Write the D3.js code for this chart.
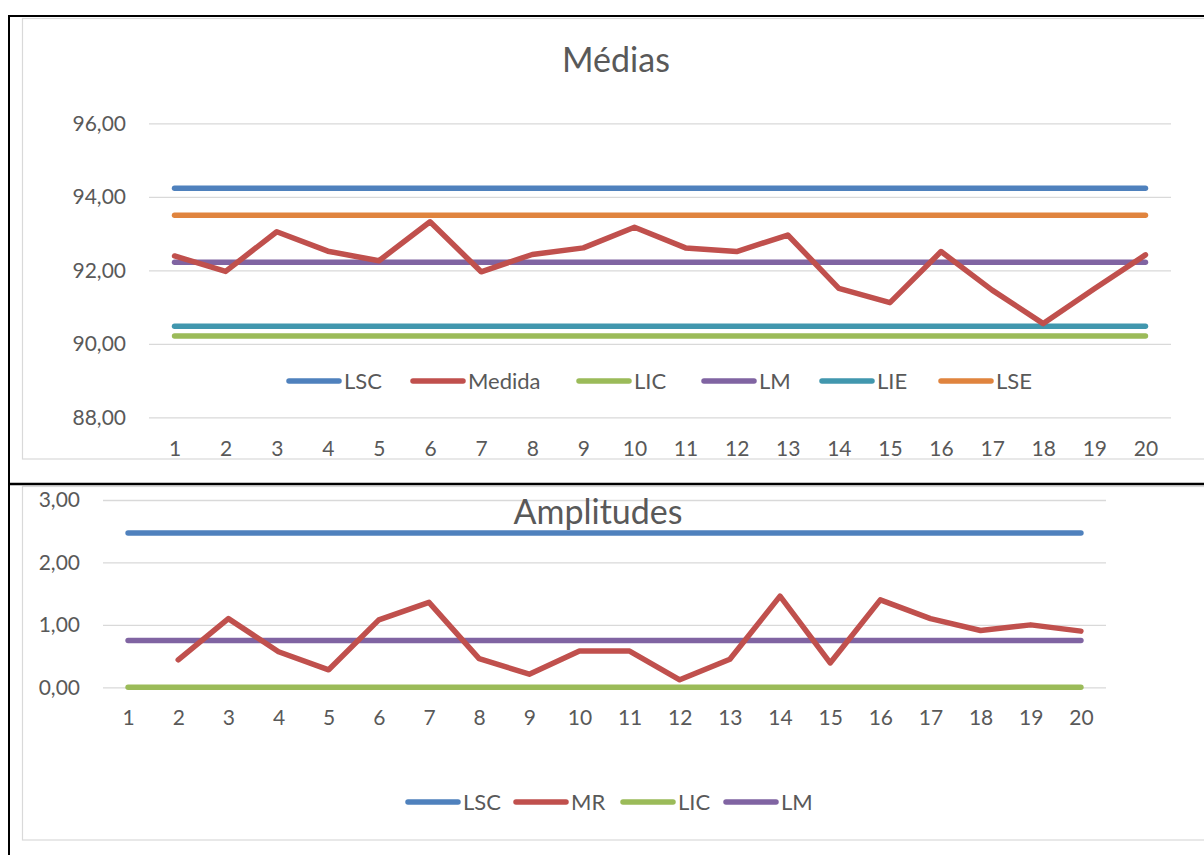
<!DOCTYPE html>
<html>
<head>
<meta charset="utf-8">
<script src="https://cdn.jsdelivr.net/npm/d3@7"></script>
<style>
  html, body { margin: 0; padding: 0; background: #fff; }
  svg text { font-family: Lato, "Open Sans", sans-serif; fill: #595959; }
</style>
</head>
<body>
<svg id="page" width="1204" height="855"></svg>
<script>
// Sample numbers
const samples = d3.range(1, 21).map(String);

// Chart 1: sample means and limits
const mediaValues = [92.39, 91.97, 93.05, 92.52, 92.26, 93.32, 91.96, 92.43, 92.61, 93.17,
                     92.61, 92.51, 92.96, 91.51, 91.12, 92.51, 91.46, 90.55, 91.50, 92.42];
const mediaLSC = 94.23;
const mediaLIC = 90.21;
const mediaLM = 92.22;
const mediaLIE = 90.48;
const mediaLSE = 93.50;
const mediaTicks = [88, 90, 92, 94, 96];

// Chart 2: moving ranges and limits (no range for the first sample)
const mrValues = [null, 0.44, 1.10, 0.57, 0.28, 1.08, 1.36, 0.46, 0.21, 0.58,
                  0.58, 0.12, 0.45, 1.46, 0.39, 1.40, 1.10, 0.91, 1.00, 0.90];
const mrLSC = 2.47;
const mrLIC = 0;
const mrLM = 0.75;
const mrTicks = [0, 1, 2, 3];

const colors = {
  LSC: "#4f81bd", Medida: "#c0504d", MR: "#c0504d", LIC: "#9bbb59",
  LM: "#8064a2", LIE: "#4197ae", LSE: "#e0843e"
};

const ptLocale = d3.formatLocale({ decimal: ",", thousands: ".", grouping: [3], currency: ["", ""] });
const fmt = ptLocale.format(".2f");

const svg = d3.select("#page");

// Chart frames
svg.append("rect").attr("x", 22.5).attr("y", 18.5).attr("width", 1200).attr("height", 440.5)
  .attr("fill", "none").attr("stroke", "#d9d9d9").attr("stroke-width", 1.2);
svg.append("rect").attr("x", 22.5).attr("y", 486.5).attr("width", 1200).attr("height", 353.5)
  .attr("fill", "none").attr("stroke", "#d9d9d9").attr("stroke-width", 1.2);

// Table borders
const border = svg.append("g").attr("stroke", "#000");
border.append("line").attr("x1", 8).attr("x2", 1204).attr("y1", 16).attr("y2", 16).attr("stroke-width", 2);
border.append("line").attr("x1", 9).attr("x2", 9).attr("y1", 15).attr("y2", 855).attr("stroke-width", 2);
border.append("line").attr("x1", 8).attr("x2", 1204).attr("y1", 484).attr("y2", 484).attr("stroke-width", 2.5);

function drawChart(cfg) {
  const g = svg.append("g");
  const x = d3.scalePoint().domain(samples).range([cfg.left, cfg.right]).padding(0.5);
  const y = d3.scaleLinear().domain(cfg.domain).range([cfg.bottom, cfg.top]);

  // Gridlines and y labels
  const yAxis = g.append("g").attr("transform", `translate(${cfg.left},0)`)
    .call(d3.axisLeft(y).tickValues(cfg.ticks).tickSize(-(cfg.right - cfg.left)).tickPadding(cfg.yPad).tickFormat(fmt));
  yAxis.select(".domain").remove();
  yAxis.selectAll(".tick line").attr("stroke", "#d9d9d9").attr("stroke-width", 1.3);
  yAxis.selectAll(".tick text").attr("font-size", cfg.fontSize).attr("fill", "#595959");

  // x labels
  const xAxis = g.append("g").attr("transform", `translate(0,${cfg.bottom})`)
    .call(d3.axisBottom(x).tickSize(0).tickPadding(cfg.xPad));
  xAxis.select(".domain").remove();
  xAxis.selectAll(".tick text").attr("font-size", cfg.fontSize).attr("fill", "#595959");

  // Title
  g.append("text").attr("x", cfg.titleX).attr("y", cfg.titleY).attr("text-anchor", "middle")
    .attr("font-size", cfg.titleSize).text(cfg.title);

  // Series
  const line = d3.line()
    .defined(d => d.v !== null)
    .x(d => x(d.s))
    .y(d => y(d.v));
  cfg.series.forEach(s => {
    const vals = Array.isArray(s.values) ? s.values : samples.map(() => s.values);
    const data = samples.map((sm, i) => ({ s: sm, v: vals[i] }));
    g.append("path").datum(data)
      .attr("d", line)
      .attr("fill", "none")
      .attr("stroke", colors[s.name])
      .attr("stroke-width", 5.5)
      .attr("stroke-linecap", "round")
      .attr("stroke-linejoin", "round");
  });

  // Legend
  const leg = g.append("g");
  cfg.legend.forEach((name, i) => {
    const lx = cfg.legendX[i];
    leg.append("line").attr("x1", lx + 2).attr("x2", lx + 52)
      .attr("y1", cfg.legendY).attr("y2", cfg.legendY)
      .attr("stroke", colors[name]).attr("stroke-width", 5.5).attr("stroke-linecap", "round");
    leg.append("text").attr("x", lx + 57).attr("y", cfg.legendY).attr("dy", "0.35em")
      .attr("font-size", cfg.legendSize).text(name);
  });
}

drawChart({
  title: "Médias", titleX: 616, titleY: 72, titleSize: 34,
  left: 149, right: 1171, top: 123.3, bottom: 417.3,
  domain: [88, 96], ticks: mediaTicks, fontSize: 21, legendSize: 22, yPad: 23, xPad: 24,
  series: [
    { name: "LSC", values: mediaLSC },
    { name: "LSE", values: mediaLSE },
    { name: "LIE", values: mediaLIE },
    { name: "LIC", values: mediaLIC },
    { name: "LM", values: mediaLM },
    { name: "Medida", values: mediaValues }
  ],
  legend: ["LSC", "Medida", "LIC", "LM", "LIE", "LSE"],
  legendX: [287, 411, 577, 702, 820, 939], legendY: 381
});

drawChart({
  title: "Amplitudes", titleX: 598, titleY: 524, titleSize: 34,
  left: 103, right: 1106, top: 500, bottom: 687.3,
  domain: [0, 3], ticks: mrTicks, fontSize: 21, legendSize: 22, yPad: 23, xPad: 23,
  series: [
    { name: "LSC", values: mrLSC },
    { name: "LIC", values: mrLIC },
    { name: "LM", values: mrLM },
    { name: "MR", values: mrValues }
  ],
  legend: ["LSC", "MR", "LIC", "LM"],
  legendX: [406, 514, 621, 724], legendY: 802
});
</script>
</body>
</html>
